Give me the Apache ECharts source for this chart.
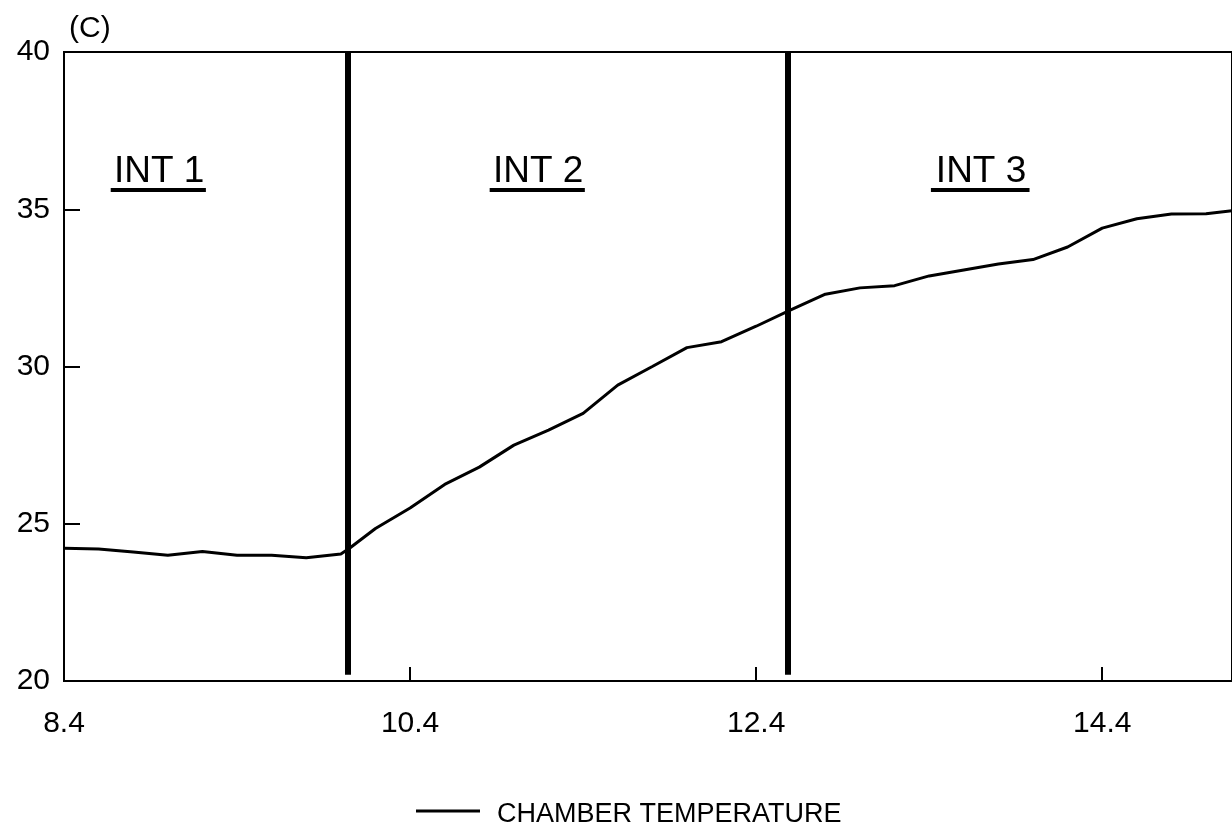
<!DOCTYPE html>
<html>
<head>
<meta charset="utf-8">
<script src="https://cdn.jsdelivr.net/npm/echarts@6/dist/echarts.min.js"></script>
<style>
html,body{margin:0;padding:0;background:#fff;}
#chart{width:1232px;height:828px;}
</style>
</head>
<body>
<div id="chart"></div>
<script>
// ---- data ----
const timeX = [8.4, 8.6, 8.8, 9.0, 9.2, 9.4, 9.6, 9.8, 10.0, 10.05, 10.2, 10.4, 10.6, 10.8, 11.0, 11.2, 11.4, 11.6, 11.8, 12.0, 12.2, 12.4, 12.6, 12.8, 13.0, 13.2, 13.4, 13.6, 13.8, 14.0, 14.2, 14.4, 14.6, 14.8, 15.0, 15.15];
const chamberTemp = [24.22, 24.2, 24.1, 24.0, 24.12, 24.0, 24.0, 23.92, 24.04, 24.22, 24.85, 25.5, 26.25, 26.8, 27.5, 27.98, 28.51, 29.41, 30.0, 30.6, 30.79, 31.28, 31.8, 32.3, 32.5, 32.57, 32.88, 33.07, 33.26, 33.4, 33.8, 34.4, 34.7, 34.85, 34.86, 34.95];
const intervalBounds = [10.04, 12.58];
const intLabels = ['INT 1', 'INT 2', 'INT 3'];
const intLabelX = [8.95, 11.14, 13.70];
const intUnderlineStart = [8.67, 10.86, 13.41];
const intUnderlineEnd = [9.22, 11.41, 13.98];
const xTickLabels = [8.4, 10.4, 12.4, 14.4];
const xTicks = [10.4, 12.4, 14.4];
const yTicks = [20, 25, 30, 35, 40];
const seriesName = 'CHAMBER TEMPERATURE';
const panelTitle = '(C)';

const FONT = 'Liberation Sans';
const labelY = 36.2;
const underlineY = 35.63;

const chart = echarts.init(document.getElementById('chart'), null, {renderer: 'canvas'});

const markLineData = [];
intervalBounds.forEach(function (x) {
  markLineData.push([{coord: [x, 20.2], lineStyle: {width: 6}}, {coord: [x, 40]}]);
});
for (let i = 0; i < intLabels.length; i++) {
  markLineData.push([{coord: [intUnderlineStart[i], underlineY], lineStyle: {width: 4}}, {coord: [intUnderlineEnd[i], underlineY]}]);
}

const option = {
  backgroundColor: '#fff',
  animation: false,
  textStyle: {fontFamily: FONT, color: '#000'},
  title: {
    text: panelTitle,
    left: 64,
    top: 9,
    textStyle: {fontFamily: FONT, fontSize: 30, fontWeight: 'normal', color: '#000'}
  },
  grid: {
    left: 64, top: 52, right: 0, bottom: 147,
    show: true, borderColor: '#000', borderWidth: 2, backgroundColor: 'transparent'
  },
  legend: {
    left: 411,
    top: 796,
    icon: 'path://M0,0L64,0L64,3L0,3Z M0,9.95L0.02,9.95L0.02,10L0,10Z',
    itemWidth: 64,
    itemHeight: 10,
    textStyle: {fontFamily: FONT, fontSize: 27, color: '#000', padding: [0, 0, 0, 12]},
    data: [seriesName]
  },
  xAxis: {
    type: 'value',
    min: 8.4,
    max: 15.15,
    axisLine: {show: true, lineStyle: {color: '#000', width: 2}},
    axisTick: {show: true, inside: true, length: 14, customValues: xTicks, lineStyle: {color: '#000', width: 2}},
    axisLabel: {show: true, customValues: xTickLabels, margin: 28, fontSize: 30, fontFamily: FONT, color: '#000',
      formatter: function (v) { return v.toFixed(1); }},
    splitLine: {show: false}
  },
  yAxis: {
    type: 'value',
    min: 20,
    max: 40,
    interval: 5,
    axisLine: {show: true, lineStyle: {color: '#000', width: 2}},
    axisTick: {show: true, inside: true, length: 16, lineStyle: {color: '#000', width: 2}},
    axisLabel: {show: true, margin: 14, fontSize: 30, fontFamily: FONT, color: '#000'},
    splitLine: {show: false}
  },
  series: [{
    name: seriesName,
    type: 'line',
    data: timeX.map(function (x, i) { return [x, chamberTemp[i]]; }),
    showSymbol: false,
    symbol: 'none',
    smooth: false,
    lineStyle: {color: '#000', width: 3},
    itemStyle: {color: '#000'},
    markLine: {
      silent: true,
      symbol: ['none', 'none'],
      label: {show: false},
      lineStyle: {color: '#000', type: 'solid', width: 6},
      emphasis: {disabled: true},
      data: markLineData
    },
    markPoint: {
      silent: true,
      symbol: 'circle',
      symbolSize: 0,
      itemStyle: {color: 'transparent'},
      label: {show: true, position: 'inside', fontFamily: FONT, fontSize: 37, color: '#000',
        formatter: function (p) { return p.name; }},
      data: intLabels.map(function (t, i) { return {name: t, coord: [intLabelX[i], labelY]}; })
    }
  }]
};
chart.setOption(option);
</script>
</body>
</html>
